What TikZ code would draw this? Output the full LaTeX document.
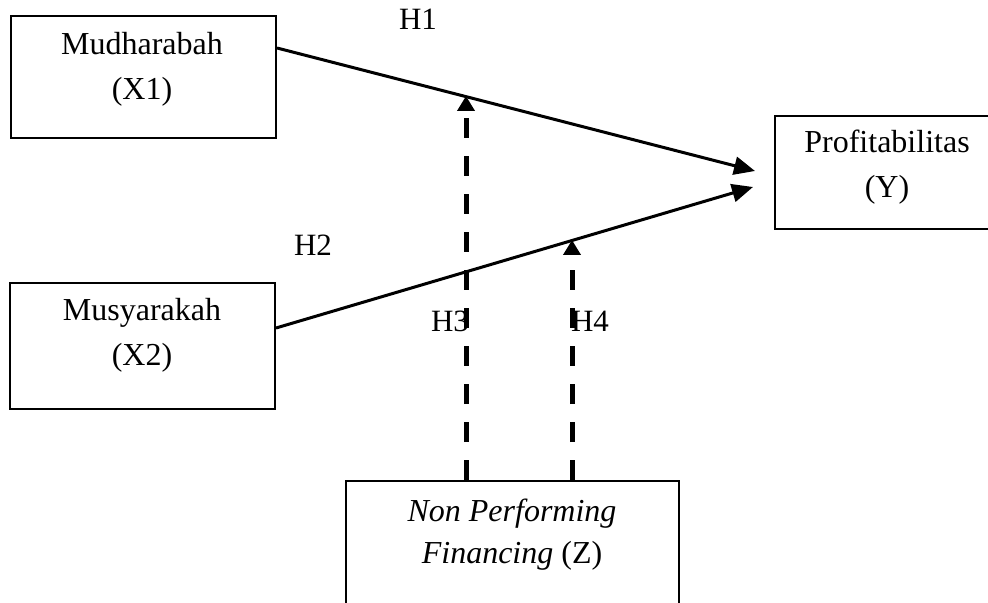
\documentclass[tikz,border=0pt]{standalone}
\usepackage{fontspec}
\setmainfont{Liberation Serif}
\usetikzlibrary{arrows.meta}
\begin{document}
\begin{tikzpicture}[x=0.5pt,y=-0.5pt,
  box/.style={draw, line width=1pt, inner sep=0pt},
  txt/.style={font=\fontsize{16}{22.5}\selectfont, align=center, anchor=base, inner sep=0pt},
  hyp/.style={font=\fontsize{15.5}{18}\selectfont, anchor=base, inner sep=0pt},
  solidarr/.style={line width=1.5pt, -{Triangle[length=10.5pt,width=9pt]}},
  dasharr/.style={line width=2.5pt, dash pattern=on 10pt off 9pt, -{Triangle[length=7.5pt,width=8.5pt]}}]
\path[use as bounding box] (0,0) rectangle (988,603);
\clip (0,0) rectangle (988,603);
% boxes
\node[box, minimum width=132.5pt, minimum height=61pt] (x1) at (143.5,77) {};
\node[box, minimum width=132.5pt, minimum height=63pt] (x2) at (142.5,346) {};
\node[box, minimum width=115pt, minimum height=56.5pt] (y) at (890,172.5) {};
\node[box, minimum width=166.5pt, minimum height=79pt] (z) at (512.5,560) {};
% texts (anchored at the baseline of the last line)
\node[txt] (tx1) at (142,100) {Mudharabah\\(X1)};
\node[txt] (tx2) at (142,365) {Musyarakah\\(X2)};
\node[txt] (ty) at (887,198) {Profitabilitas\\(Y)};
\node[txt] (tz) at (512,563) {\textit{Non Performing}\\[-1.5pt]\textit{Financing} (Z)};
% connector points
\coordinate (s1) at (276,48);
\coordinate (e1) at (755,171);
\coordinate (s2) at (275,328);
\coordinate (e2) at (753,187);
\coordinate (m1) at (466,96);
\coordinate (m2) at (572,240);
% arrows
\draw[solidarr] (x1.east |- s1) -- (e1);
\draw[solidarr] (x2.east |- s2) -- (e2);
\draw[dasharr] (m1 |- z.north) -- (m1);
\draw[dasharr] (m2 |- z.north) -- (m2);
% hypothesis labels
\node[hyp] (h1) at (418,30) {H1};
\node[hyp] (h2) at (313,256) {H2};
\node[hyp] (h3) at (450,332) {H3};
\node[hyp] (h4) at (590,332) {H4};
\end{tikzpicture}
\end{document}
